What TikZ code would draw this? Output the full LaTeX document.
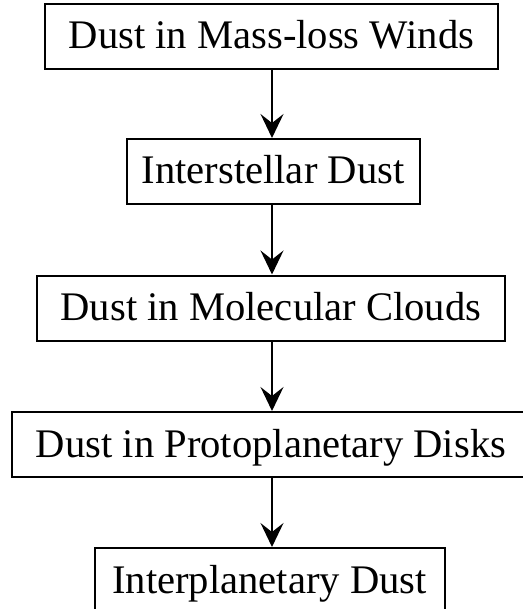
\documentclass[tikz,border=0pt]{standalone}
\usepackage{fontspec}
\setmainfont{Liberation Serif}
\usetikzlibrary{arrows.meta}

\begin{document}
\begin{tikzpicture}[
    x=0.5pt, y=-0.5pt,
    stage/.style={draw, line width=1pt, font={\fontsize{20.3}{24}\selectfont},
        inner xsep=0pt, inner ysep=0pt, minimum height=32.5pt,
        text height=12.5pt, text depth=0pt},
    flow/.style={-{Stealth[length=12pt,width=11.5pt,inset=4.5pt]}, line width=0.8pt},
    ]
    \clip (0,0) rectangle (523,609);
    \useasboundingbox (0,0) rectangle (523,609);
    % Stages of the dust life cycle
    \node[stage, minimum width=226.5pt] (winds)  at (271.5,36.5)  {Dust in Mass-loss Winds};
    \node[stage, minimum width=146.5pt] (ism)    at (273,171.5)   {Interstellar Dust};
    \node[stage, minimum width=234pt]   (clouds) at (271,308)     {Dust in Molecular Clouds};
    \node[stage, minimum width=259pt]   (disks)  at (271,444.5)   {Dust in Protoplanetary Disks};
    \node[stage, minimum width=175pt]   (ipd)    at (269.5,580.5) {Interplanetary Dust};
    % Arrows
    \draw[flow] (winds.south -| 272,0) -- (ism.north -| 272,0);
    \draw[flow] (ism.south -| 272,0) -- (clouds.north -| 272,0);
    \draw[flow] (clouds.south -| 272,0) -- (disks.north -| 272,0);
    \draw[flow] (disks.south -| 272,0) -- (ipd.north -| 272,0);
\end{tikzpicture}
\end{document}
